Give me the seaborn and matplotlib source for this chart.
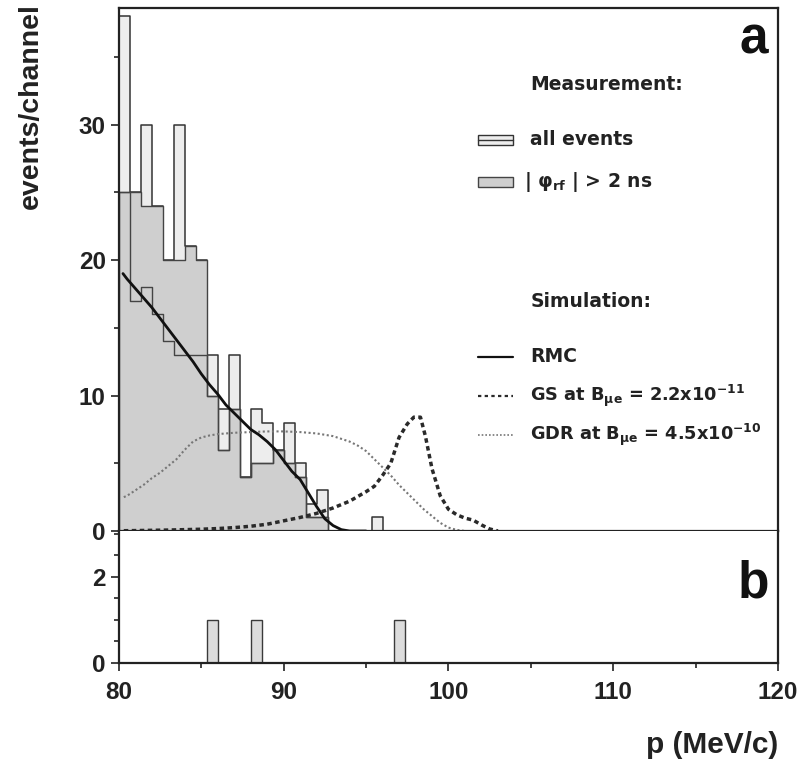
import numpy as np
import pandas as pd
import matplotlib
matplotlib.use('Agg')
import matplotlib.pyplot as plt
from matplotlib.patches import Rectangle
import seaborn as sns

# histogramme: canaux de 2/3 MeV a partir de 80 MeV/c
bin_lo = 80.0
bin_w = 2.0 / 3.0
all_counts = [38, 25, 30, 24, 20, 30, 21, 20, 13, 9, 13, 4, 9, 8, 6, 8, 5, 2, 3, 0, 0, 0, 0, 1, 0, 0]
rf_counts = [25, 25, 24, 24, 20, 20, 21, 20, 10, 6, 9, 4, 5, 5, 6, 5, 4, 1, 1, 0, 0, 0, 0, 0, 0, 0]
# lignes internes visibles dans la zone grisee
inner_counts = [25, 17, 18, 16, 14, 13, 13, 13, 10, 6, 9, 4, 5, 5, 6, 5, 4, 1, 1, 0, 0, 0, 0, 0, 0, 0]
b_counts = [0, 0, 0, 0, 0, 0, 0, 0, 1, 0, 0, 0, 1, 0, 0, 0, 0, 0, 0, 0, 0, 0, 0, 0, 0, 1]

# simulations
rmc_p = [80.25, 80.5, 81, 81.5, 82, 82.5, 83, 83.5, 84, 84.5, 85, 85.5, 86, 86.5, 87, 87.5,
         88, 88.5, 89, 89.5, 90, 90.5, 91, 91.5, 92, 92.5, 93, 93.5, 94, 95]
rmc_n = [19.0, 18.6, 17.9, 17.2, 16.5, 15.7, 14.9, 14.1, 13.3, 12.5, 11.6, 10.8, 10.1, 9.3, 8.7, 8.1,
         7.5, 7.1, 6.6, 6.0, 5.2, 4.4, 3.8, 2.8, 1.8, 0.9, 0.4, 0.1, 0.0, 0.0]

gs_p = [80.3, 81, 82, 83, 84, 85, 86, 87, 88, 89, 90, 91, 92, 93, 94, 95, 95.5, 96, 96.5, 97,
        97.5, 97.9, 98.3, 98.6, 99, 99.5, 100, 100.5, 101, 101.5, 102, 102.5, 103]
gs_n = [0.02, 0.03, 0.05, 0.07, 0.1, 0.13, 0.18, 0.25, 0.35, 0.5, 0.75, 1.0, 1.3, 1.7, 2.2, 2.9, 3.3,
        4.1, 5.0, 6.9, 7.9, 8.4, 8.4, 7.0, 4.6, 2.6, 1.6, 1.2, 0.95, 0.8, 0.45, 0.15, 0.0]

gdr_p = [80.3, 80.5, 81, 81.5, 82, 82.5, 83, 83.5, 84, 84.5, 85, 85.5, 86, 87, 88, 89, 90, 91, 92,
         93, 93.5, 94, 94.5, 95, 95.5, 96, 96.5, 97, 97.5, 98, 98.5, 99, 99.5, 100, 100.5, 101]
gdr_n = [2.5, 2.6, 3.0, 3.4, 3.9, 4.3, 4.8, 5.3, 6.0, 6.6, 6.9, 7.05, 7.15, 7.25, 7.3, 7.35, 7.35, 7.3,
         7.2, 7.0, 6.8, 6.6, 6.3, 5.9, 5.3, 4.7, 4.1, 3.4, 2.8, 2.2, 1.6, 1.1, 0.6, 0.25, 0.08, 0.0]

sns.set_theme(style='ticks')
plt.rcParams['font.family'] = ['Liberation Sans', 'DejaVu Sans']
plt.rcParams['font.weight'] = 'bold'
plt.rcParams['mathtext.fontset'] = 'dejavusans'
plt.rcParams['mathtext.default'] = 'bf'

ink = '#222222'
edges = [bin_lo + bin_w * k for k in range(len(all_counts) + 1)]
df = pd.DataFrame({
    'p': [e + bin_w / 2 for e in edges[:-1]],
    'all': all_counts,
    'rf': rf_counts,
    'inner': inner_counts,
    'b': b_counts,
})

fig = plt.figure(figsize=(8.03, 7.70), dpi=100)
ax_a = fig.add_axes([0.148, 0.3104, 0.821, 0.6792])
ax_b = fig.add_axes([0.148, 0.139, 0.821, 0.1714], sharex=ax_a)

# panneau a : histogrammes
sns.histplot(data=df, x='p', weights='all', bins=edges, ax=ax_a, element='step', fill=True,
             facecolor='#ededed', edgecolor='#333333', linewidth=1.1, alpha=1)
sns.histplot(data=df, x='p', weights='rf', bins=edges, ax=ax_a, element='step', fill=True,
             facecolor='#cfcfcf', edgecolor='#444444', linewidth=1.0, alpha=1)
sns.histplot(data=df, x='p', weights='inner', bins=edges, ax=ax_a, element='step', fill=False,
             color='#444444', linewidth=1.0)

sns.lineplot(x=gdr_p, y=gdr_n, ax=ax_a, color='#777777', linewidth=1.5, linestyle=(0, (1, 1.2)))
sns.lineplot(x=gs_p, y=gs_n, ax=ax_a, color='#2a2a2a', linewidth=2.5, linestyle=(0, (1.3, 1.0)))
sns.lineplot(x=rmc_p, y=rmc_n, ax=ax_a, color='#111111', linewidth=2.0)
ax_a.axhline(0, color=ink, linewidth=1.8)

# panneau b
sns.histplot(data=df, x='p', weights='b', bins=edges, ax=ax_b, element='bars', fill=True,
             facecolor='#dcdcdc', edgecolor='#3a3a3a', linewidth=1.0, alpha=1)

ax_a.set_xlim(80, 120)
ax_a.set_ylim(0, 38.6)
ax_b.set_ylim(0, 3.07)

for ax in (ax_a, ax_b):
    ax.set_xlabel('')
    ax.set_ylabel('')
    for s in ax.spines.values():
        s.set_linewidth(1.6)
        s.set_color(ink)
    ax.tick_params(which='both', direction='out', colors=ink, width=1.2, labelsize=17.5)
    ax.tick_params(which='major', length=6)
    ax.tick_params(which='minor', length=3.5)
    ax.set_xticks([80, 90, 100, 110, 120])
    ax.set_xticks([85, 95, 105, 115], minor=True)
ax_b.spines['top'].set_visible(False)
ax_a.tick_params(axis='x', labelbottom=False)

ax_a.set_yticks([0, 10, 20, 30])
ax_a.set_yticks([5, 15, 25, 35], minor=True)
ax_b.set_yticks([0, 2])
ax_b.set_yticks([0.5, 1, 1.5, 2.5, 3], minor=True)
for lab in ax_a.get_yticklabels() + ax_b.get_yticklabels() + ax_b.get_xticklabels():
    lab.set_fontweight('bold')
ax_b.tick_params(axis='x', pad=7)

fig.text(0.038, 0.862, 'events/channel', rotation=90, ha='center', va='center',
         fontsize=20.5, fontweight='bold', color=ink)
fig.text(0.969, 0.033, 'p (MeV/c)', ha='right', va='center', fontsize=21.5,
         fontweight='bold', color=ink)

ax_a.text(0.963, 0.939, 'a', transform=ax_a.transAxes, ha='center', va='center',
          fontsize=37, fontweight='bold', color='#111111')
ax_b.text(0.963, 0.60, 'b', transform=ax_b.transAxes, ha='center', va='center',
          fontsize=37, fontweight='bold', color='#111111')

# legende
tx = 0.624
sx0, sx1 = 0.545, 0.598
lg = dict(transform=ax_a.transAxes, va='center', fontsize=13.5, color=ink,
          family='DejaVu Sans', fontweight='bold')
ax_a.text(tx, 0.853, 'Measurement:', **lg)
ax_a.text(tx, 0.748, 'all events', **lg)
ax_a.text(tx - 0.01, 0.667, r'| $φ_{rf}$ | > 2 ns', **lg)
ax_a.text(tx, 0.438, 'Simulation:', **lg)
ax_a.text(tx, 0.333, 'RMC', **lg)
lg['fontsize'] = 12.8
ax_a.text(tx, 0.258, r'GS at B$_{μe}$ = 2.2x10$^{-11}$', **lg)
ax_a.text(tx, 0.184, r'GDR at B$_{μe}$ = 4.5x10$^{-10}$', **lg)

ax_a.add_patch(Rectangle((sx0, 0.738), sx1 - sx0, 0.02, transform=ax_a.transAxes,
                         facecolor='#ededed', edgecolor='#333333', linewidth=1.0))
ax_a.plot([sx0, sx1], [0.748, 0.748], transform=ax_a.transAxes, color='#333333', linewidth=1.0)
ax_a.add_patch(Rectangle((sx0, 0.657), sx1 - sx0, 0.02, transform=ax_a.transAxes,
                         facecolor='#cfcfcf', edgecolor='#444444', linewidth=1.0))
ax_a.plot([sx0, sx1], [0.333, 0.333], transform=ax_a.transAxes, color='#111111', linewidth=1.6)
ax_a.plot([sx0, sx1], [0.258, 0.258], transform=ax_a.transAxes, color='#2a2a2a', linewidth=1.6,
          linestyle=(0, (1.5, 1.5)))
ax_a.plot([sx0, sx1], [0.184, 0.184], transform=ax_a.transAxes, color='#777777', linewidth=1.2,
          linestyle=(0, (1, 1.2)))

fig.savefig('out.png', dpi=100, facecolor='white')
